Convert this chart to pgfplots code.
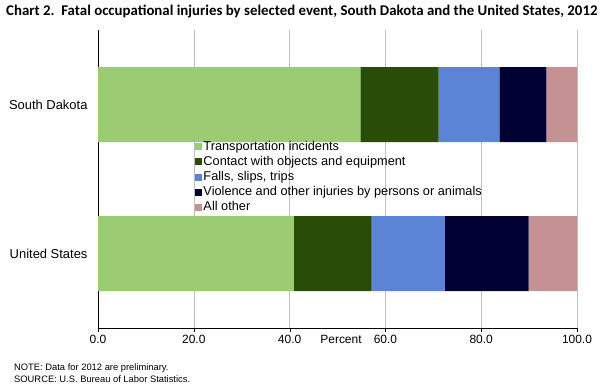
\documentclass[border=0pt]{standalone}
\usepackage{pgfplots}
\pgfplotsset{compat=1.18}
\usepackage{fontspec}
\setmainfont{Liberation Sans}
\newfontfamily\titlefont{Carlito}
\definecolor{c1}{HTML}{9BCB72}
\definecolor{c2}{HTML}{294D06}
\definecolor{c3}{HTML}{5B84D6}
\definecolor{c4}{HTML}{000033}
\definecolor{c5}{HTML}{C49292}
\begin{document}
\begin{tikzpicture}
\useasboundingbox (0bp,0bp) rectangle (604bp,-390bp);
\node[anchor=west,inner sep=0,font=\titlefont\bfseries\fontsize{14.9}{16}\selectfont] at (6bp,-12bp) {Chart 2.\ \ Fatal occupational injuries by selected event, South Dakota and the United States, 2012};
\begin{axis}[at={(98bp,-328bp)}, anchor=south west, scale only axis,
  width=479bp, height=298bp,
  xbar stacked, bar width=75bp,
  xmin=0, xmax=100, ymin=-0.5, ymax=1.5,
  ytick={0,1}, yticklabels={United States, South Dakota},
  xtick={0,20,...,100},
  xticklabel={\pgfmathprintnumber[fixed,fixed zerofill,precision=1]{\tick}},
  /pgf/number format/assume math mode=true,
  axis x line=bottom, axis y line=left, axis line style={-,black},
  tick align=outside, major tick length=4bp,
  xtick style={black}, ytick style={draw=none},
  xmajorgrids, grid style={gray!50},
  xticklabel style={font=\fontsize{12}{14}\selectfont},
  yticklabel style={font=\fontsize{13}{15}\selectfont, xshift=-3bp},
  legend style={at={(0.2025,0.634)}, anchor=north west, draw=none, fill=none,
    font=\fontsize{12.8}{14}\selectfont, inner sep=0pt,
    nodes={text height=9.5bp, text depth=3bp, inner sep=1.3bp}, cells={anchor=west}},
  legend image code/.code={\fill[#1] (0bp,-3.5bp) rectangle (7bp,3.5bp);},
]
\addplot[fill=c1, draw=none] coordinates {(54.8,1) (40.9,0)};
\addplot[fill=c2, draw=none] coordinates {(16.3,1) (16.2,0)};
\addplot[fill=c3, draw=none] coordinates {(12.7,1) (15.3,0)};
\addplot[fill=c4, draw=none] coordinates {(9.8,1) (17.5,0)};
\addplot[fill=c5, draw=none] coordinates {(6.4,1) (10.1,0)};
\legend{Transportation incidents, Contact with objects and equipment, {Falls, slips, trips}, Violence and other injuries by persons or animals, All other}
\end{axis}
\node[font=\fontsize{12}{14}\selectfont] at (341bp,-339bp) {Percent};
\node[anchor=west,inner sep=0,font=\fontsize{9.4}{10}\selectfont] at (14bp,-368bp) {NOTE: Data for 2012 are preliminary.};
\node[anchor=west,inner sep=0,font=\fontsize{9.4}{10}\selectfont] at (14bp,-379bp) {SOURCE: U.S. Bureau of Labor Statistics.};
\end{tikzpicture}
\end{document}
